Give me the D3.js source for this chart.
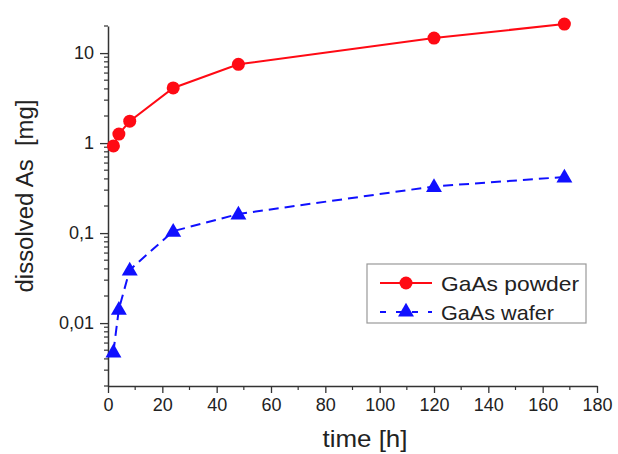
<!DOCTYPE html>
<html><head><meta charset="utf-8">
<script src="https://cdn.jsdelivr.net/npm/d3@7"></script>
<style>body{margin:0;background:#fff}svg{display:block;font-family:"Liberation Sans",Arial,sans-serif}text{white-space:pre}</style>
</head><body><svg id="c" width="618" height="454"></svg>
<script>
const times = [2, 4, 8, 24, 48, 120, 168];
const powder = [0.93, 1.26, 1.75, 4.1, 7.5, 14.7, 21];
const wafer = [0.0048, 0.0143, 0.039, 0.105, 0.163, 0.33, 0.42];
const seriesNames = ["GaAs powder", "GaAs wafer"];
const xTicks = [0, 20, 40, 60, 80, 100, 120, 140, 160, 180];
const yTicks = [0.01, 0.1, 1, 10];
const yTickLabels = ["0,01", "0,1", "1", "10"];

const svg = d3.select("#c");
const x = d3.scaleLinear().domain([0, 180]).range([108, 597]);
const y = d3.scaleLog().domain([0.002, 20]).range([386, 26]);
const axisCol = "#333";

// x axis
const xAxis = svg.append("g").attr("transform", `translate(0,${y(0.002)})`)
  .call(d3.axisBottom(x).tickValues(xTicks).tickSize(7).tickPadding(5).tickSizeOuter(0));
xAxis.select(".domain").attr("stroke", axisCol).attr("stroke-width", 1.5);
xAxis.selectAll(".tick line").attr("stroke", axisCol).attr("stroke-width", 1.3);
xAxis.selectAll("text").attr("font-size", 18).attr("fill", "#222").attr("font-family", "Liberation Sans, Arial, sans-serif");
const xMinor = d3.range(10, 180, 20);
svg.append("g").selectAll("line").data(xMinor).join("line")
  .attr("x1", d => x(d)).attr("x2", d => x(d)).attr("y1", y(0.002)).attr("y2", y(0.002) + 4)
  .attr("stroke", axisCol).attr("stroke-width", 1.2);

// y axis
const yAxis = svg.append("g").attr("transform", `translate(${x(0)},0)`)
  .call(d3.axisLeft(y).tickValues(yTicks).tickFormat((d, i) => yTickLabels[i]).tickSize(8).tickPadding(6).tickSizeOuter(0));
yAxis.select(".domain").attr("stroke", axisCol).attr("stroke-width", 1.5);
yAxis.selectAll(".tick line").attr("stroke", axisCol).attr("stroke-width", 1.3);
yAxis.selectAll("text").attr("font-size", 18).attr("fill", "#222").attr("font-family", "Liberation Sans, Arial, sans-serif");
const yMinor = [];
[0.001, 0.01, 0.1, 1, 10].forEach(dec => { for (let k = 2; k <= 9; k++) { const v = dec * k; if (v >= 0.002 && v <= 20) yMinor.push(v); } });
svg.append("g").selectAll("line").data(yMinor).join("line")
  .attr("x1", x(0) - 4).attr("x2", x(0)).attr("y1", d => y(d)).attr("y2", d => y(d))
  .attr("stroke", axisCol).attr("stroke-width", 1.2);

// axis titles
svg.append("text").attr("x", 365).attr("y", 447).attr("text-anchor", "middle")
  .attr("font-size", 24).attr("fill", "#222").attr("textLength", 85).attr("lengthAdjust", "spacingAndGlyphs").text("time [h]");
svg.append("text").attr("transform", "translate(33,196) rotate(-90)").attr("text-anchor", "middle")
  .attr("font-size", 23).attr("fill", "#222").attr("textLength", 193).attr("lengthAdjust", "spacingAndGlyphs").text("dissolved As  [mg]");

const line = d3.line().x(d => x(d[0])).y(d => y(d[1]));
const pData = times.map((t, i) => [t, powder[i]]);
const wData = times.map((t, i) => [t, wafer[i]]);
const red = "#ff0a14", blue = "#1010ff";
const tri = d3.symbol().type(d3.symbolTriangle).size(110);

svg.append("path").datum(pData).attr("d", line).attr("fill", "none").attr("stroke", red).attr("stroke-width", 2);
svg.append("g").selectAll("circle").data(pData).join("circle")
  .attr("cx", d => x(d[0])).attr("cy", d => y(d[1])).attr("r", 6.5).attr("fill", red);

svg.append("path").datum(wData).attr("d", line).attr("fill", "none").attr("stroke", blue).attr("stroke-width", 2).attr("stroke-dasharray", "10,6");
svg.append("g").selectAll("path").data(wData).join("path")
  .attr("transform", d => `translate(${x(d[0])},${y(d[1]) + 1})`).attr("d", tri).attr("fill", blue);

// legend
const lg = svg.append("g");
lg.append("rect").attr("x", 367).attr("y", 264).attr("width", 219).attr("height", 59)
  .attr("fill", "#fff").attr("stroke", "#999").attr("stroke-width", 1.2);
lg.append("line").attr("x1", 380).attr("x2", 432).attr("y1", 283).attr("y2", 283).attr("stroke", red).attr("stroke-width", 2);
lg.append("circle").attr("cx", 406).attr("cy", 283).attr("r", 6.5).attr("fill", red);
lg.append("line").attr("x1", 380).attr("x2", 432).attr("y1", 312).attr("y2", 312).attr("stroke", blue).attr("stroke-width", 2).attr("stroke-dasharray", "6,10");
lg.append("path").attr("transform", "translate(406,312)").attr("d", tri).attr("fill", blue);
lg.append("text").attr("x", 441).attr("y", 291).attr("font-size", 21).attr("fill", "#222")
  .attr("textLength", 138).attr("lengthAdjust", "spacingAndGlyphs").text(seriesNames[0]);
lg.append("text").attr("x", 441).attr("y", 320).attr("font-size", 21).attr("fill", "#222")
  .attr("textLength", 113).attr("lengthAdjust", "spacingAndGlyphs").text(seriesNames[1]);
</script></body></html>
